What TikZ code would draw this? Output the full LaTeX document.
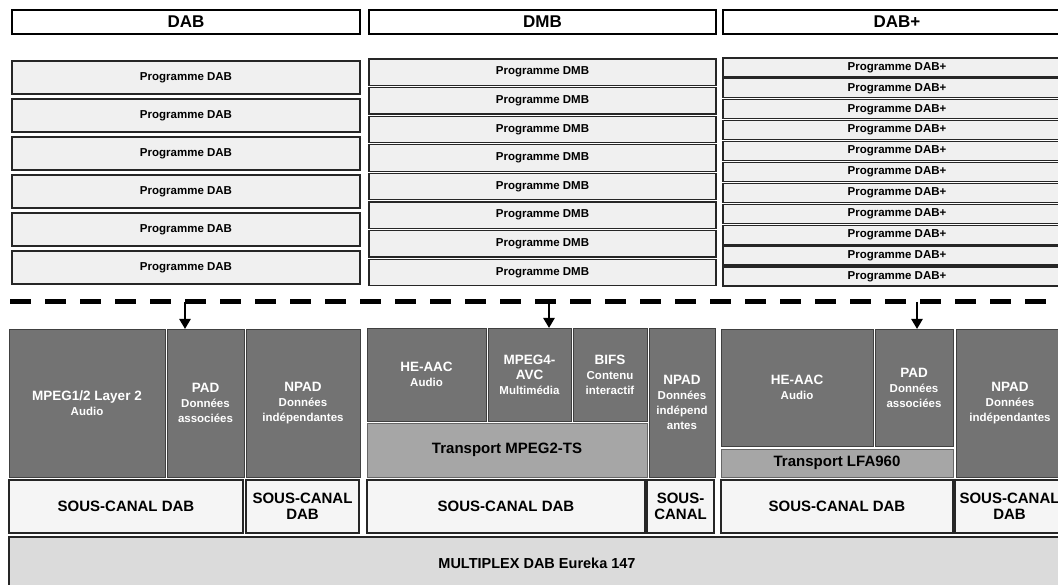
\documentclass[tikz,border=0pt]{standalone}
\usepackage{fontspec}
\setmainfont{Liberation Sans}
\usetikzlibrary{arrows.meta}
\newcommand\subtxt[1]{{\fontsize{11.5}{12.5}\selectfont #1}}
\begin{document}
\begin{tikzpicture}[x=1pt,y=-1pt,
  box/.style={inner sep=0pt, outer sep=0pt, align=center, font=\bfseries},
  hdr/.style={box, draw=black, line width=1.6pt, fill=white, font=\bfseries\fontsize{17}{19}\selectfont},
  prog/.style={box, draw=black!85, line width=1.2pt, fill=black!6, font=\bfseries\fontsize{11.5}{13}\selectfont},
  dark/.style={box, draw=black!75, line width=0.8pt, fill=black!55, text=white, font=\bfseries\fontsize{13.5}{15}\selectfont},
  trans/.style={box, draw=black!60, line width=0.8pt, fill=black!35, text=black, font=\bfseries\fontsize{15}{16}\selectfont},
  sous/.style={box, draw=black!85, line width=1.3pt, fill=black!4, font=\bfseries\fontsize{15}{16.5}\selectfont},
  mux/.style={box, draw=black!85, line width=2pt, fill=black!14, font=\bfseries\fontsize{14.5}{16}\selectfont},
  sep/.style={line width=5pt, dash pattern=on 21pt off 14pt},
  arr/.style={line width=2.5pt, -{Triangle[length=10pt,width=11pt]}}
]
\useasboundingbox (0,0) rectangle (1058,585);
\clip (0,0) rectangle (1058,585);
\fill[white] (0,0) rectangle (1058,585);

% headers
\node[hdr, minimum width=348pt, minimum height=24pt] (hdab) at (186,22) {DAB};
\node[hdr, minimum width=347pt, minimum height=24pt] (hdmb) at (542.5,22) {DMB};
\node[hdr, minimum width=348pt, minimum height=24pt] (hdabp) at (897,22) {DAB+};

% programme boxes
\foreach \i in {0,...,5}
  \node[prog, minimum width=348pt, minimum height=33pt] (dab\i) at (186,{77.5+38*\i}) {Programme DAB};
\foreach \i in {0,...,7}
  \node[prog, minimum width=347pt, minimum height=26.5pt] (dmb\i) at (542.5,{72.25+28.6*\i}) {Programme DMB};
\foreach \i in {0,...,10}
  \node[prog, minimum width=348pt, minimum height=19pt] (dabp\i) at (897,{67.5+20.9*\i}) {Programme DAB+};

% dashed separator
\coordinate (sl) at (10,302);
\coordinate (sr) at (1058,302);
\draw[sep] (sl) -- (sr);

% DAB stack
\node[dark, minimum width=156pt, minimum height=148pt] (mpeg) at (87,403) {MPEG1/2 Layer 2\\\subtxt{Audio}};
\node[dark, minimum width=77pt, minimum height=148pt] (pad) at (205.5,403) {PAD\\\subtxt{Données}\\\subtxt{associées}};
\node[dark, minimum width=114pt, minimum height=148pt] (npad) at (303,403) {NPAD\\\subtxt{Données}\\\subtxt{indépendantes}};
\node[sous, minimum width=234pt, minimum height=53pt] (sc1) at (126,506.5) {SOUS-CANAL DAB};
\node[sous, minimum width=113pt, minimum height=53pt] (sc2) at (302.5,506.5) {SOUS-CANAL\\DAB};

% DMB stack
\node[dark, minimum width=119pt, minimum height=93pt] (heaac) at (426.5,374.5) {HE-AAC\\\subtxt{Audio}};
\node[dark, minimum width=83pt, minimum height=93pt] (mpeg4) at (529.5,374.5) {MPEG4-\\AVC\\\subtxt{Multimédia}};
\node[dark, minimum width=74pt, minimum height=93pt] (bifs) at (610,374.5) {BIFS\\\subtxt{Contenu}\\\subtxt{interactif}};
\node[dark, minimum width=66pt, minimum height=149pt] (npad2) at (682,402.5) {NPAD\\\subtxt{Données}\\\subtxt{indépend}\\\subtxt{antes}};
\node[trans, minimum width=280pt, minimum height=54pt] (ts) at (507,450) {Transport MPEG2-TS};
\node[sous, minimum width=278pt, minimum height=53pt] (sc3) at (506,506.5) {SOUS-CANAL DAB};
\node[sous, minimum width=67pt, minimum height=53pt] (sc4) at (680.5,506.5) {SOUS-\\CANAL};

% DAB+ stack
\node[dark, minimum width=152pt, minimum height=117pt] (heaac2) at (797,387.5) {HE-AAC\\\subtxt{Audio}};
\node[dark, minimum width=78pt, minimum height=117pt] (pad2) at (914,387.5) {PAD\\\subtxt{Données}\\\subtxt{associées}};
\node[dark, minimum width=108pt, minimum height=148pt] (npad3) at (1010,403) {NPAD\\\subtxt{Données}\\\subtxt{indépendantes}};
\node[trans, minimum width=232pt, minimum height=28pt] (lfa) at (837,463) {Transport LFA960};
\node[sous, minimum width=232pt, minimum height=53pt] (sc5) at (837,506.5) {SOUS-CANAL DAB};
\node[sous, minimum width=109pt, minimum height=53pt] (sc6) at (1009.5,506.5) {SOUS-CANAL\\DAB};

% multiplex
\node[mux, minimum width=1056pt, minimum height=53pt] (mux) at (537,563.5) {MULTIPLEX DAB Eureka 147};

% arrows
\coordinate (a1) at (185,302);
\coordinate (a2) at (549,302);
\coordinate (a3) at (917,302);
\draw[arr] (a1) -- (a1 |- pad.north);
\draw[arr] (a2) -- (a2 |- mpeg4.north);
\draw[arr] (a3) -- (a3 |- pad2.north);
\end{tikzpicture}
\end{document}
